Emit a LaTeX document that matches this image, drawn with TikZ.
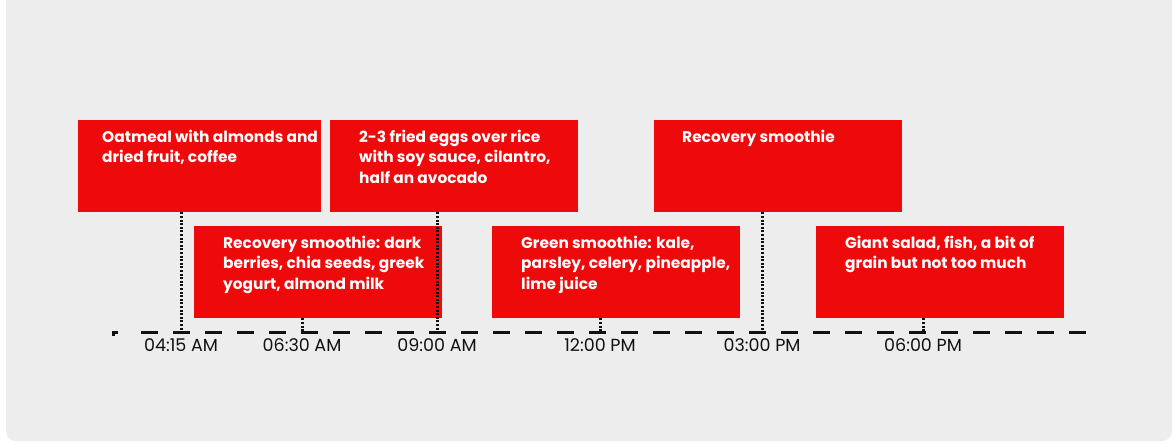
\documentclass[tikz,border=0pt]{standalone}
\usepackage{fontspec}
\setmainfont{Poppins}
\usetikzlibrary{positioning}
\definecolor{PanelGray}{HTML}{EDEDED}
\definecolor{MealRed}{HTML}{EE0A0A}
\definecolor{AxisBlack}{HTML}{111111}

\begin{document}
\begin{tikzpicture}[x=1pt,y=-1pt,
    meal/.style={anchor=north west, fill=MealRed, inner sep=0pt,
      minimum width=248pt, minimum height=92pt},
    mealtext/.style={anchor=north west, inner sep=0pt, align=left,
      text=white, font=\bfseries\fontsize{15.4}{20.8}\selectfont},
    timelabel/.style={inner sep=0pt, text=AxisBlack,
      font=\fontsize{17.5}{20}\selectfont},
    stem/.style={AxisBlack, line width=3pt, dash pattern=on 2pt off 1.6pt},
    axisline/.style={AxisBlack, line width=3pt, dash pattern=on 17pt off 15pt}]

    % page and panel
    \useasboundingbox (0,0) rectangle (1174,444);
    \clip (0,0) rectangle (1174,444);
    \fill[white] (0,0) rectangle (1174,444);
    \fill[PanelGray, rounded corners=10pt] (6,-20) rectangle (1172,441);

    % meal boxes
    \node[meal, minimum width=243pt] (oatmeal) at (78,120) {};
    \node[meal] (berries) at (194,226) {};
    \node[meal] (eggs) at (330,120) {};
    \node[meal] (green) at (492,226) {};
    \node[meal] (recovery) at (654,120) {};
    \node[meal] (salad) at (816,226) {};

    \node[mealtext, below right=9.5pt and 24pt of oatmeal.north west] (oatmealtext)
      {Oatmeal with almonds and\\dried fruit, coffee};
    \node[mealtext, below right=9.5pt and 29pt of berries.north west] (berriestext)
      {Recovery smoothie: dark\\berries, chia seeds, greek\\yogurt, almond milk};
    \node[mealtext, below right=9.5pt and 29pt of eggs.north west] (eggstext)
      {2-3 fried eggs over rice\\with soy sauce, cilantro,\\half an avocado};
    \node[mealtext, below right=9.5pt and 29pt of green.north west] (greentext)
      {Green smoothie: kale,\\parsley, celery, pineapple,\\lime juice};
    \node[mealtext, below right=9.5pt and 28pt of recovery.north west] (recoverytext)
      {Recovery smoothie};
    \node[mealtext, below right=9.5pt and 29pt of salad.north west] (saladtext)
      {Giant salad, fish, a bit of\\grain but not too much};

    % time axis
    \coordinate (axisstart) at (113,332);
    \coordinate (axisend) at (1086,332);
    \coordinate (t415) at (181,332);
    \coordinate (t630) at (302,332);
    \coordinate (t900) at (437,332);
    \coordinate (t1200) at (600,332);
    \coordinate (t1500) at (762,332);
    \coordinate (t1800) at (923,332);

    \draw[stem] (oatmeal.south -| t415) -- (t415);
    \draw[stem] (berries.south -| t630) -- (t630);
    \draw[stem] (eggs.south -| t900) -- (t900);
    \draw[stem] (green.south -| t1200) -- (t1200);
    \draw[stem] (recovery.south -| t1500) -- (t1500);
    \draw[stem] (salad.south -| t1800) -- (t1800);

    \draw[AxisBlack, line width=3pt] ([yshift=-4pt]axisstart) -- (axisstart) -- ++(5,0);
    \draw[axisline] ([xshift=28pt]axisstart) -- (axisend);

    \node[timelabel, below=6.5pt of t415] (l415) {04:15 AM};
    \node[timelabel, below=6.5pt of t630] (l630) {06:30 AM};
    \node[timelabel, below=6.5pt of t900] (l900) {09:00 AM};
    \node[timelabel, below=6.5pt of t1200] (l1200) {12:00 PM};
    \node[timelabel, below=6.5pt of t1500] (l1500) {03:00 PM};
    \node[timelabel, below=6.5pt of t1800] (l1800) {06:00 PM};
\end{tikzpicture}
\end{document}
